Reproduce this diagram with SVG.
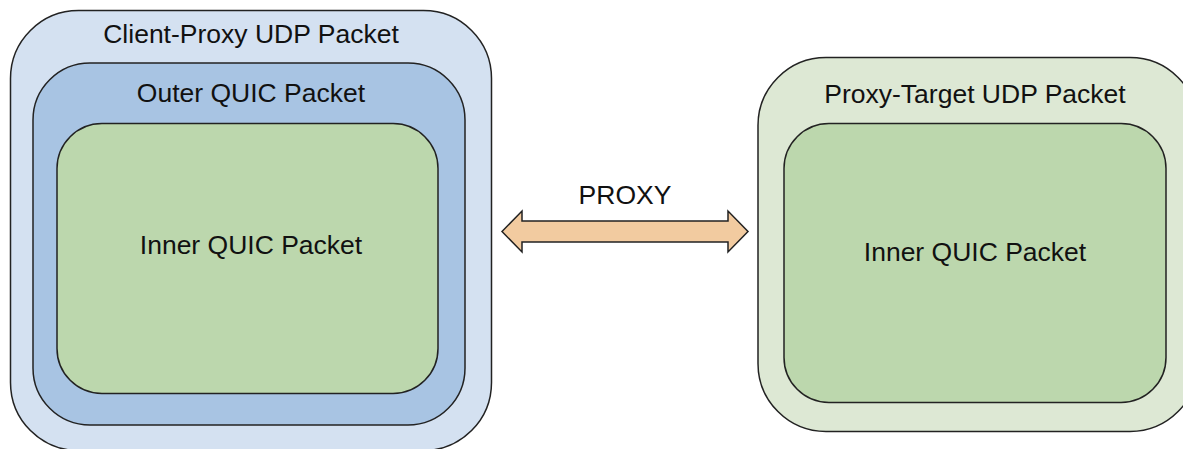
<svg xmlns="http://www.w3.org/2000/svg" width="1183" height="449" viewBox="0 0 1183 449">
  <style>
    .box { stroke: #222222; stroke-width: 1.5; }
    .udp-client { fill: #d4e1f1; }
    .quic-outer { fill: #a8c4e3; }
    .quic-inner { fill: #bcd7ad; }
    .udp-target { fill: #dde8d4; }
    .label { font-family: "Liberation Sans", Arial, sans-serif; font-size: 26.5px; fill: #111111; text-anchor: middle; }
    .arrow { fill: #f2cba0; stroke: #222222; stroke-width: 1.5; stroke-linejoin: miter; }
  </style>
  <rect width="1183" height="449" fill="#ffffff"/>

  <g id="client-proxy-udp">
    <rect class="box udp-client" x="10.5" y="10.5" width="481" height="440" rx="68" ry="68"/>
    <text class="label" x="251" y="43">Client-Proxy UDP Packet</text>
  </g>

  <g id="outer-quic">
    <rect class="box quic-outer" x="33" y="63" width="432" height="362" rx="57" ry="57"/>
    <text class="label" x="251" y="102">Outer QUIC Packet</text>
  </g>

  <g id="inner-quic-left">
    <rect class="box quic-inner" x="57" y="123.5" width="381" height="270" rx="45" ry="45"/>
    <text class="label" x="251" y="254">Inner QUIC Packet</text>
  </g>

  <g id="proxy-target-udp">
    <rect class="box udp-target" x="758" y="57.5" width="440" height="374" rx="68" ry="68"/>
    <text class="label" x="975" y="103">Proxy-Target UDP Packet</text>
  </g>

  <g id="inner-quic-right">
    <rect class="box quic-inner" x="784" y="123.5" width="382" height="279" rx="45" ry="45"/>
    <text class="label" x="975" y="261">Inner QUIC Packet</text>
  </g>

  <g id="connectors">
    <path class="arrow" d="M502,231.5 L522,211 L522,221 L728,221 L728,211 L748,231.5 L728,252 L728,242 L522,242 L522,252 Z"/>
    <text class="label" x="625" y="204">PROXY</text>
  </g>
</svg>
